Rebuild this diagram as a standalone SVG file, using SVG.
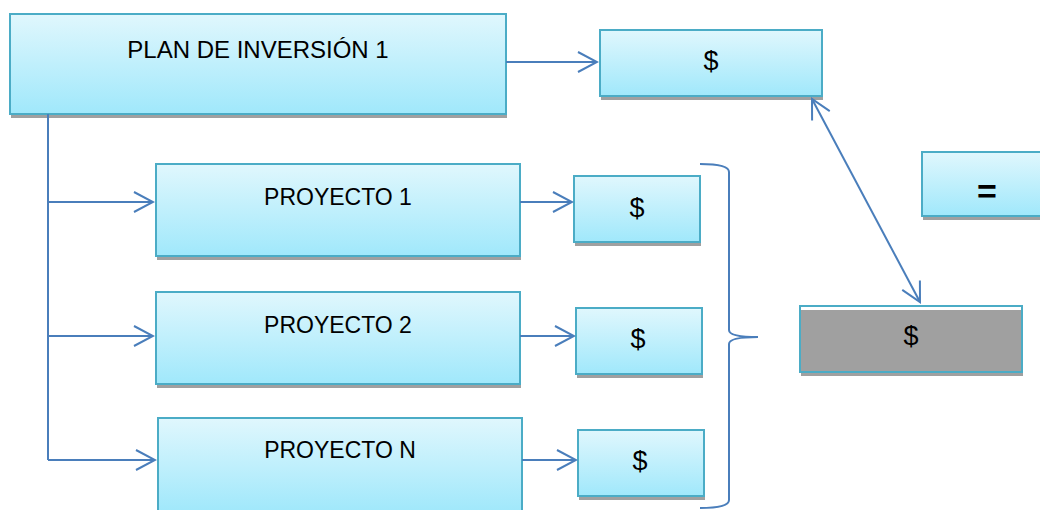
<svg xmlns="http://www.w3.org/2000/svg" width="1040" height="510" viewBox="0 0 1040 510">
  <style>
    .box { fill: url(#g); stroke: #4BACC6; stroke-width: 2; }
    .sh { fill: #A0A0A0; }
    .t { font-family: "Liberation Sans", Arial, sans-serif; font-size: 23px; fill: #000; text-anchor: middle; }
    .d { font-size: 27px; }
    .c { fill: none; stroke: #4A7EBB; stroke-width: 2; }
  </style>
  <defs>
    <linearGradient id="g" x1="0" y1="0" x2="0" y2="1">
      <stop offset="0" stop-color="#E0F7FD"/>
      <stop offset="1" stop-color="#A0E8FB"/>
    </linearGradient>
    <marker id="a" viewBox="0 0 24 24" refX="22" refY="12" markerWidth="24" markerHeight="24" markerUnits="userSpaceOnUse" orient="auto-start-reverse">
      <path d="M3,2 L22,12 L3,22" fill="none" stroke="#4A7EBB" stroke-width="2"/>
    </marker>
  </defs>
  <rect width="1040" height="510" fill="#fff"/>

  <g id="plan">
    <rect class="sh" x="11" y="16" width="496" height="102"/>
    <rect class="box" x="10" y="14" width="496" height="100"/>
    <text class="t" x="258" y="58" style="font-size:24px">PLAN DE INVERSIÓN 1</text>
  </g>
  <g id="plan-total">
    <rect class="sh" x="601" y="32" width="222" height="68"/>
    <rect class="box" x="600" y="30" width="222" height="66"/>
    <text class="t d" x="711" y="70">$</text>
  </g>
  <g id="p1">
    <rect class="sh" x="157" y="166" width="364" height="94"/>
    <rect class="box" x="156" y="164" width="364" height="92"/>
    <text class="t" x="338" y="205">PROYECTO 1</text>
  </g>
  <g id="p1-v">
    <rect class="sh" x="575" y="178" width="126" height="68"/>
    <rect class="box" x="574" y="176" width="126" height="66"/>
    <text class="t d" x="637" y="217">$</text>
  </g>
  <g id="p2">
    <rect class="sh" x="157" y="294" width="364" height="94"/>
    <rect class="box" x="156" y="292" width="364" height="92"/>
    <text class="t" x="338" y="333">PROYECTO 2</text>
  </g>
  <g id="p2-v">
    <rect class="sh" x="577" y="310" width="126" height="68"/>
    <rect class="box" x="576" y="308" width="126" height="66"/>
    <text class="t d" x="638" y="348">$</text>
  </g>
  <g id="pn">
    <rect class="sh" x="159" y="420" width="364" height="94"/>
    <rect class="box" x="158" y="418" width="364" height="94"/>
    <text class="t" x="340" y="458">PROYECTO N</text>
  </g>
  <g id="pn-v">
    <rect class="sh" x="579" y="432" width="126" height="68"/>
    <rect class="box" x="578" y="430" width="126" height="66"/>
    <text class="t d" x="640" y="470">$</text>
  </g>
  <g id="eq">
    <rect class="sh" x="923" y="154" width="130" height="66"/>
    <rect class="box" x="922" y="152" width="130" height="64"/>
    <text class="t" x="987" y="203" style="font-size:34px;font-weight:bold">=</text>
  </g>
  <g id="sum">
    <rect class="sh" x="801" y="308" width="222" height="68"/>
    <rect x="800" y="306" width="222" height="66" fill="#A0A0A0" stroke="#4BACC6" stroke-width="2"/>
    <rect x="801" y="307" width="220" height="3" fill="#fff"/>
    <text class="t d" x="911" y="345">$</text>
  </g>

  <g id="connectors">
    <path class="c" d="M48,114 L48,460"/>
    <path class="c" d="M48,202 L153,202" marker-end="url(#a)"/>
    <path class="c" d="M48,336 L153,336" marker-end="url(#a)"/>
    <path class="c" d="M48,460 L155,460" marker-end="url(#a)"/>
    <path class="c" d="M506,62 L597,62" marker-end="url(#a)"/>
    <path class="c" d="M520,202 L572,202" marker-end="url(#a)"/>
    <path class="c" d="M520,336 L574,336" marker-end="url(#a)"/>
    <path class="c" d="M522,460 L576,460" marker-end="url(#a)"/>
    <path class="c" d="M812,99 L920,302" marker-start="url(#a)" marker-end="url(#a)"/>
    <path class="c" d="M700,164 Q729,164 729,172 L729,330 Q729,337 758,337 Q729,337 729,344 L729,500 Q729,508 700,508"/>
  </g>
</svg>
